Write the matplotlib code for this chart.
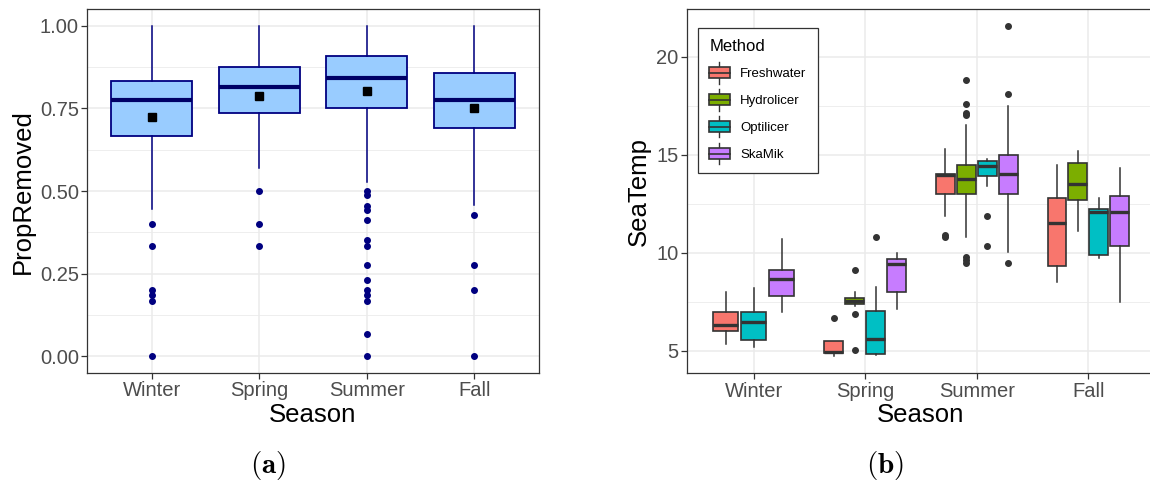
import numpy as np
import matplotlib
matplotlib.use("Agg")
import matplotlib.pyplot as plt
from matplotlib.patches import Rectangle
from matplotlib.lines import Line2D
from matplotlib.legend_handler import HandlerBase

plt.rcParams['font.family'] = ['Liberation Sans', 'DejaVu Sans']
plt.rcParams['mathtext.fontset'] = 'cm'

nan = np.nan

# ---- Panel (a): proportion removed by season ----
seasons = ['Winter', 'Spring', 'Summer', 'Fall']
prop_whislo = [0.445, 0.571, 0.528, 0.459]
prop_q1 = [0.666, 0.735, 0.750, 0.691]
prop_median = [0.777, 0.815, 0.843, 0.777]
prop_q3 = [0.833, 0.877, 0.909, 0.857]
prop_whishi = [1.0, 1.0, 1.0, 1.0]
prop_mean = [0.723, 0.789, 0.803, 0.750]
prop_outliers = [
    [0.400, 0.333, 0.200, 0.187, 0.167, 0.0],
    [0.500, 0.400, 0.333],
    [0.500, 0.487, 0.455, 0.444, 0.412, 0.353, 0.333, 0.276, 0.231,
     0.200, 0.187, 0.167, 0.067, 0.0],
    [0.429, 0.277, 0.200, 0.0],
]

# ---- Panel (b): sea temperature by season and method ----
methods = ['Freshwater', 'Hydrolicer', 'Optilicer', 'SkaMik']
method_colors = ['#F8766D', '#7CAE00', '#00BFC4', '#C77CFF']
temp_whislo = [[5.36, nan, 5.20, 6.99], [4.71, 7.26, 4.80, 7.11],
               [11.89, 10.80, 13.40, 10.02], [8.52, 11.11, 9.71, 7.47]]
temp_q1 = [[5.99, nan, 5.54, 7.79], [4.87, 7.37, 4.85, 7.98],
           [12.99, 12.99, 13.91, 12.98], [9.34, 12.67, 9.90, 10.36]]
temp_median = [[6.31, nan, 6.48, 8.64], [4.92, 7.54, 5.60, 9.44],
               [13.95, 13.78, 14.44, 14.00], [11.53, 13.50, 12.06, 12.09]]
temp_q3 = [[6.99, nan, 6.96, 9.13], [5.51, 7.67, 7.01, 9.66],
           [14.00, 14.49, 14.69, 14.98], [12.79, 14.56, 12.23, 12.89]]
temp_whishi = [[7.98, nan, 8.18, 10.70], [5.51, 7.98, 8.27, 9.97],
               [15.27, 16.50, 14.80, 17.48], [14.47, 15.19, 12.77, 14.34]]
temp_outliers = [
    [[], [], [], []],
    [[6.68], [9.10, 6.89, 5.05], [10.80], []],
    [[10.90, 10.78], [18.79, 17.59, 17.11, 17.01, 9.80, 9.61, 9.49],
     [11.89, 10.36], [21.58, 18.08, 9.49]],
    [[], [], [], []],
]

prop_yticks = [0.0, 0.25, 0.5, 0.75, 1.0]
prop_yticklabels = ['0.00', '0.25', '0.50', '0.75', '1.00']
temp_yticks = [5, 10, 15, 20]

GRID = '#EBEBEB'
BORDER = '#333333'
TICKTXT = '#4D4D4D'
W, H = 1150, 484

fig = plt.figure(figsize=(W / 100, H / 100), dpi=100)


def frac(x0, y0, x1, y1):
    return [x0 / W, 1 - y1 / H, (x1 - x0) / W, (y1 - y0) / H]


def style_axes(ax, yticks, yticklabels, ylim, ylabel):
    ax.set_xlim(-0.6, 3.6)
    ax.set_ylim(*ylim)
    ax.set_xticks(range(len(seasons)))
    ax.set_xticklabels(seasons)
    ax.set_yticks(yticks)
    ax.set_yticklabels(yticklabels)
    minors = [(a + b) / 2 for a, b in zip(yticks[:-1], yticks[1:])]
    ax.set_yticks(minors, minor=True)
    ax.tick_params(axis='y', which='minor', length=0)
    ax.tick_params(which='major', length=4, width=0.9, color=BORDER,
                   labelsize=14.5, labelcolor=TICKTXT, pad=2)
    ax.grid(which='major', color=GRID, lw=1.1, zorder=0)
    ax.grid(which='minor', axis='y', color=GRID, lw=0.6, zorder=0)
    ax.set_axisbelow(True)
    for sp in ax.spines.values():
        sp.set_color(BORDER)
        sp.set_linewidth(0.9)
    ax.set_xlabel('Season', fontsize=18.5, labelpad=2)
    ax.set_ylabel(ylabel, fontsize=18.5, labelpad=4)


# ---- panel (a) ----
axa = fig.add_axes(frac(87.3, 9.3, 538.7, 373.0))
NAVY = '#000080'
stats_a = []
for i in range(len(seasons)):
    stats_a.append(dict(whislo=prop_whislo[i], q1=prop_q1[i], med=prop_median[i],
                        q3=prop_q3[i], whishi=prop_whishi[i], mean=prop_mean[i],
                        fliers=prop_outliers[i]))
axa.bxp(stats_a, positions=range(len(seasons)), widths=0.75, patch_artist=True,
        showmeans=True, showcaps=False,
        boxprops=dict(facecolor='#99CCFF', edgecolor=NAVY, linewidth=1.3),
        whiskerprops=dict(color=NAVY, linewidth=1.1),
        medianprops=dict(color='#000066', linewidth=3.0),
        meanprops=dict(marker='s', markerfacecolor='black', markeredgecolor='black',
                       markersize=5.2),
        flierprops=dict(marker='o', markerfacecolor=NAVY, markeredgecolor=NAVY,
                        markersize=4.0))
style_axes(axa, prop_yticks, prop_yticklabels, (-0.05, 1.05), 'PropRemoved')

# ---- panel (b) ----
axb = fig.add_axes(frac(686.7, 9.3, 1155.3, 373.3))
for i in range(len(seasons)):
    present = [k for k in range(len(methods)) if not np.isnan(temp_median[i][k])]
    n = len(present)
    slot = 0.75 / n
    for j, k in enumerate(present):
        pos = i + (j - (n - 1) / 2) * slot
        st = dict(whislo=temp_whislo[i][k], q1=temp_q1[i][k], med=temp_median[i][k],
                  q3=temp_q3[i][k], whishi=temp_whishi[i][k],
                  fliers=temp_outliers[i][k])
        axb.bxp([st], positions=[pos], widths=0.9 * slot, patch_artist=True,
                showcaps=False,
                boxprops=dict(facecolor=method_colors[k], edgecolor=BORDER, linewidth=1.2),
                whiskerprops=dict(color=BORDER, linewidth=1.1),
                medianprops=dict(color=BORDER, linewidth=2.4),
                flierprops=dict(marker='o', markerfacecolor=BORDER, markeredgecolor=BORDER,
                                markersize=4.0))
style_axes(axb, temp_yticks, [str(t) for t in temp_yticks], (3.85, 22.42), 'SeaTemp')
axb.spines['right'].set_visible(False)


class BoxKey(HandlerBase):
    def create_artists(self, legend, orig_handle, xdescent, ydescent, width, height,
                       fontsize, trans):
        x0, y0 = -xdescent, -ydescent
        cx = x0 + width / 2
        bh = 0.7 * height
        by = y0 + (height - bh) / 2
        box = Rectangle((x0, by), width, bh, facecolor=orig_handle.get_facecolor(),
                        edgecolor=BORDER, linewidth=1.2, transform=trans)
        med = Line2D([x0, x0 + width], [y0 + height / 2] * 2, color=BORDER, lw=1.2,
                     transform=trans)
        w1 = Line2D([cx, cx], [y0 - 2, by], color=BORDER, lw=1.0, transform=trans)
        w2 = Line2D([cx, cx], [by + bh, y0 + height + 2], color=BORDER, lw=1.0,
                    transform=trans)
        return [w1, w2, box, med]


handles = [Rectangle((0, 0), 1, 1, facecolor=c) for c in method_colors]
leg = axb.legend(handles, methods, title='Method', loc='upper left',
                 bbox_to_anchor=(0.0241, 0.9495), borderaxespad=0.0,
                 handler_map={Rectangle: BoxKey()}, fontsize=9.5, title_fontsize=12,
                 handlelength=1.55, handleheight=1.5, labelspacing=0.82,
                 handletextpad=0.8, borderpad=0.85, fancybox=False, framealpha=1,
                 edgecolor=BORDER, alignment='left')
leg.get_frame().set_linewidth(0.9)

fig.text(268 / W, 1 - 466 / H, r'$\mathbf{(a)}$', ha='center', va='center', fontsize=21)
fig.text(885 / W, 1 - 466 / H, r'$\mathbf{(b)}$', ha='center', va='center', fontsize=21)

fig.savefig('out.png', dpi=100)
